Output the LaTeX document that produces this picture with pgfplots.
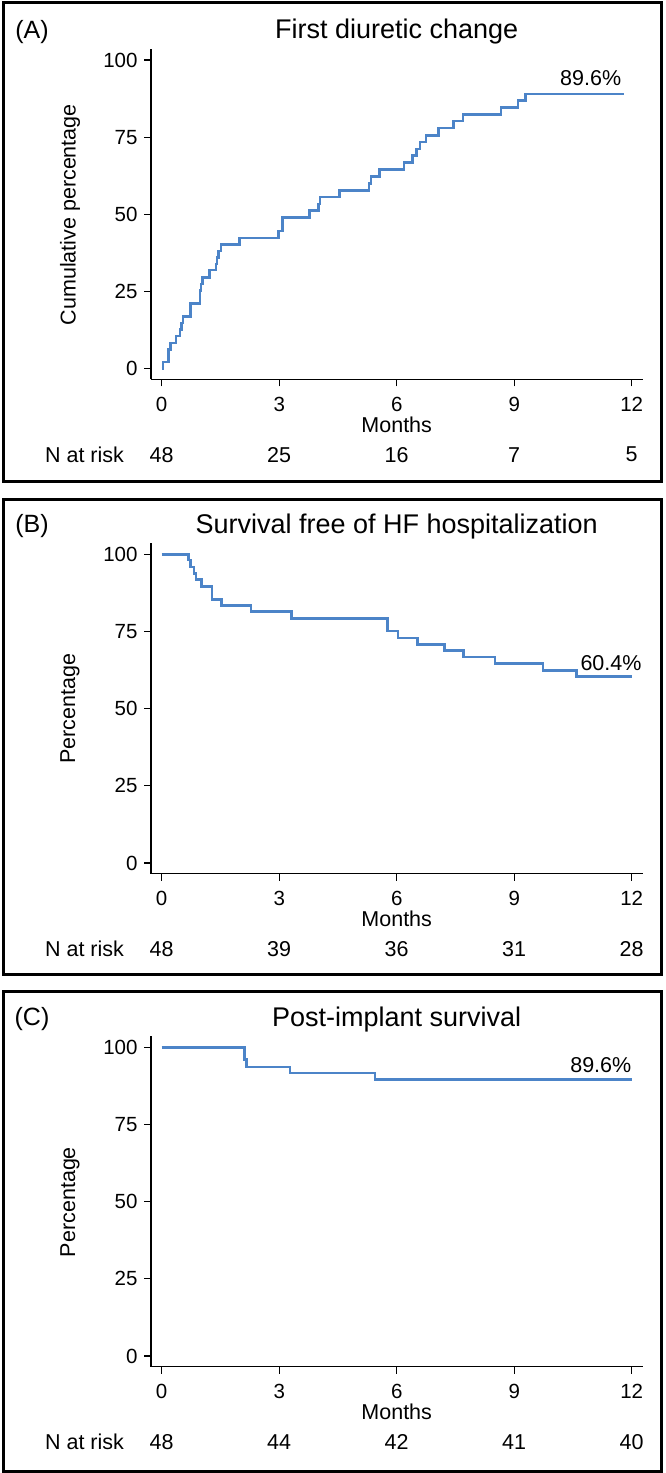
\documentclass[border=0pt]{standalone}
\usepackage{fontspec}
\setmainfont{Liberation Sans}
\usepackage{pgfplots}
\pgfplotsset{compat=1.18}
\definecolor{kmblue}{RGB}{76,132,200}
\newcommand{\fs}[1]{\fontsize{#1}{#1}\selectfont}
\pgfplotsset{kmaxis/.style={
  scale only axis, anchor=south west,
  width=491.7pt, height=330.3pt,
  xmin=-0.273, xmax=12.28, ymin=-3.43, ymax=103.56,
  axis x line=bottom, axis y line=left,
  axis line style={-, line width=1.3pt, black},
  tick align=outside, major tick length=7pt,
  tick style={line width=1.2pt, black},
  xtick={0,3,6,9,12}, ytick={0,25,50,75,100},
  ticklabel style={font=\fs{20.5}},
  xticklabel style={yshift=-7pt},
  yticklabel style={xshift=-3pt},
  /pgf/number format/assume math mode=true,
  clip=false,
}}
\begin{document}
\begin{tikzpicture}
\useasboundingbox (0,0) rectangle (665pt,-1473pt);
% ---------------- Panel A ----------------
\draw[line width=3pt] (3.5pt,-2.5pt) rectangle (661pt,-481.5pt);
\begin{axis}[kmaxis, at={(151pt,-379.3pt)}]
\addplot[const plot, kmblue, line width=2.5pt] coordinates {
(0,0) (0.03,2.1) (0.17,4.2) (0.18,6.2) (0.23,8.4) (0.37,10.6) (0.47,12.7)
(0.51,14.8) (0.55,16.9) (0.74,21.2) (0.98,25.4) (1.00,27.5) (1.04,29.6)
(1.22,31.9) (1.39,34.0) (1.41,36.0) (1.45,38.1) (1.52,40.3) (1.98,42.4)
(2.98,44.6) (3.08,49.0) (3.77,51.2) (4.00,53.3) (4.04,55.6) (4.54,57.8)
(5.29,60.0) (5.34,62.3) (5.56,64.5) (6.19,66.8) (6.40,69.0) (6.51,71.2)
(6.60,73.4) (6.75,75.6) (7.07,78.0) (7.45,80.2) (7.69,82.3) (8.66,84.6)
(9.10,86.8) (9.29,89.0) (11.80,89.0)};
\end{axis}
\node[font=\fs{25}] at (32pt,-32pt) {(A)};
\node[font=\fs{27}] at (396.7pt,-32pt) {First diuretic change};
\node[font=\fs{21.5}, rotate=90] at (70pt,-214.7pt) {Cumulative percentage};
\node[font=\fs{21.5}] at (396.7pt,-424.6pt) {Months};
\node[font=\fs{21.5}] at (590.7pt,-78pt) {89.6\%};
\node[font=\fs{21.5}] at (84.5pt,-454.7pt) {N at risk};
\foreach \xx/\nn in {161.7/48, 279.2/25, 396.7/16, 514.2/7, 631.7/5}
  \node[font=\fs{21.5}] at (\xx pt,-454.7pt) {\nn};
% ---------------- Panel B ----------------
\draw[line width=3pt] (3.5pt,-499.5pt) rectangle (661pt,-974pt);
\begin{axis}[kmaxis, at={(151pt,-873.6pt)}]
\addplot[const plot, kmblue, line width=2.5pt] coordinates {
(0,100) (0.68,98.1) (0.74,95.9) (0.83,93.7) (0.87,91.8) (1.02,89.6)
(1.28,85.4) (1.53,83.4) (2.28,81.4) (3.32,79.2) (5.77,75.2) (6.03,72.9)
(6.53,70.8) (7.22,68.8) (7.70,66.8) (8.51,64.6) (9.73,62.4) (10.59,60.4)
(12.0,60.4)};
\end{axis}
\node[font=\fs{25}] at (32pt,-526.3pt) {(B)};
\node[font=\fs{27}] at (396.7pt,-526.3pt) {Survival free of HF hospitalization};
\node[font=\fs{21.5}, rotate=90] at (70pt,-709pt) {Percentage};
\node[font=\fs{21.5}] at (396.7pt,-918.9pt) {Months};
\node[font=\fs{21.5}] at (611pt,-663pt) {60.4\%};
\node[font=\fs{21.5}] at (84.5pt,-949pt) {N at risk};
\foreach \xx/\nn in {161.7/48, 279.2/39, 396.7/36, 514.2/31, 631.7/28}
  \node[font=\fs{21.5}] at (\xx pt,-949pt) {\nn};
% ---------------- Panel C ----------------
\draw[line width=3pt] (3.5pt,-991.5pt) rectangle (661pt,-1471.5pt);
\begin{axis}[kmaxis, at={(151pt,-1366.6pt)}]
\addplot[const plot, kmblue, line width=2.5pt] coordinates {
(0,100) (2.11,96.0) (2.17,93.7) (3.28,91.6) (5.44,89.5) (12.0,89.5)};
\end{axis}
\node[font=\fs{25}] at (32pt,-1019.3pt) {(C)};
\node[font=\fs{27}] at (396.7pt,-1019.3pt) {Post-implant survival};
\node[font=\fs{21.5}, rotate=90] at (70pt,-1202pt) {Percentage};
\node[font=\fs{21.5}] at (396.7pt,-1411.9pt) {Months};
\node[font=\fs{21.5}] at (600.8pt,-1065pt) {89.6\%};
\node[font=\fs{21.5}] at (84.5pt,-1442pt) {N at risk};
\foreach \xx/\nn in {161.7/48, 279.2/44, 396.7/42, 514.2/41, 631.7/40}
  \node[font=\fs{21.5}] at (\xx pt,-1442pt) {\nn};
\end{tikzpicture}
\end{document}
